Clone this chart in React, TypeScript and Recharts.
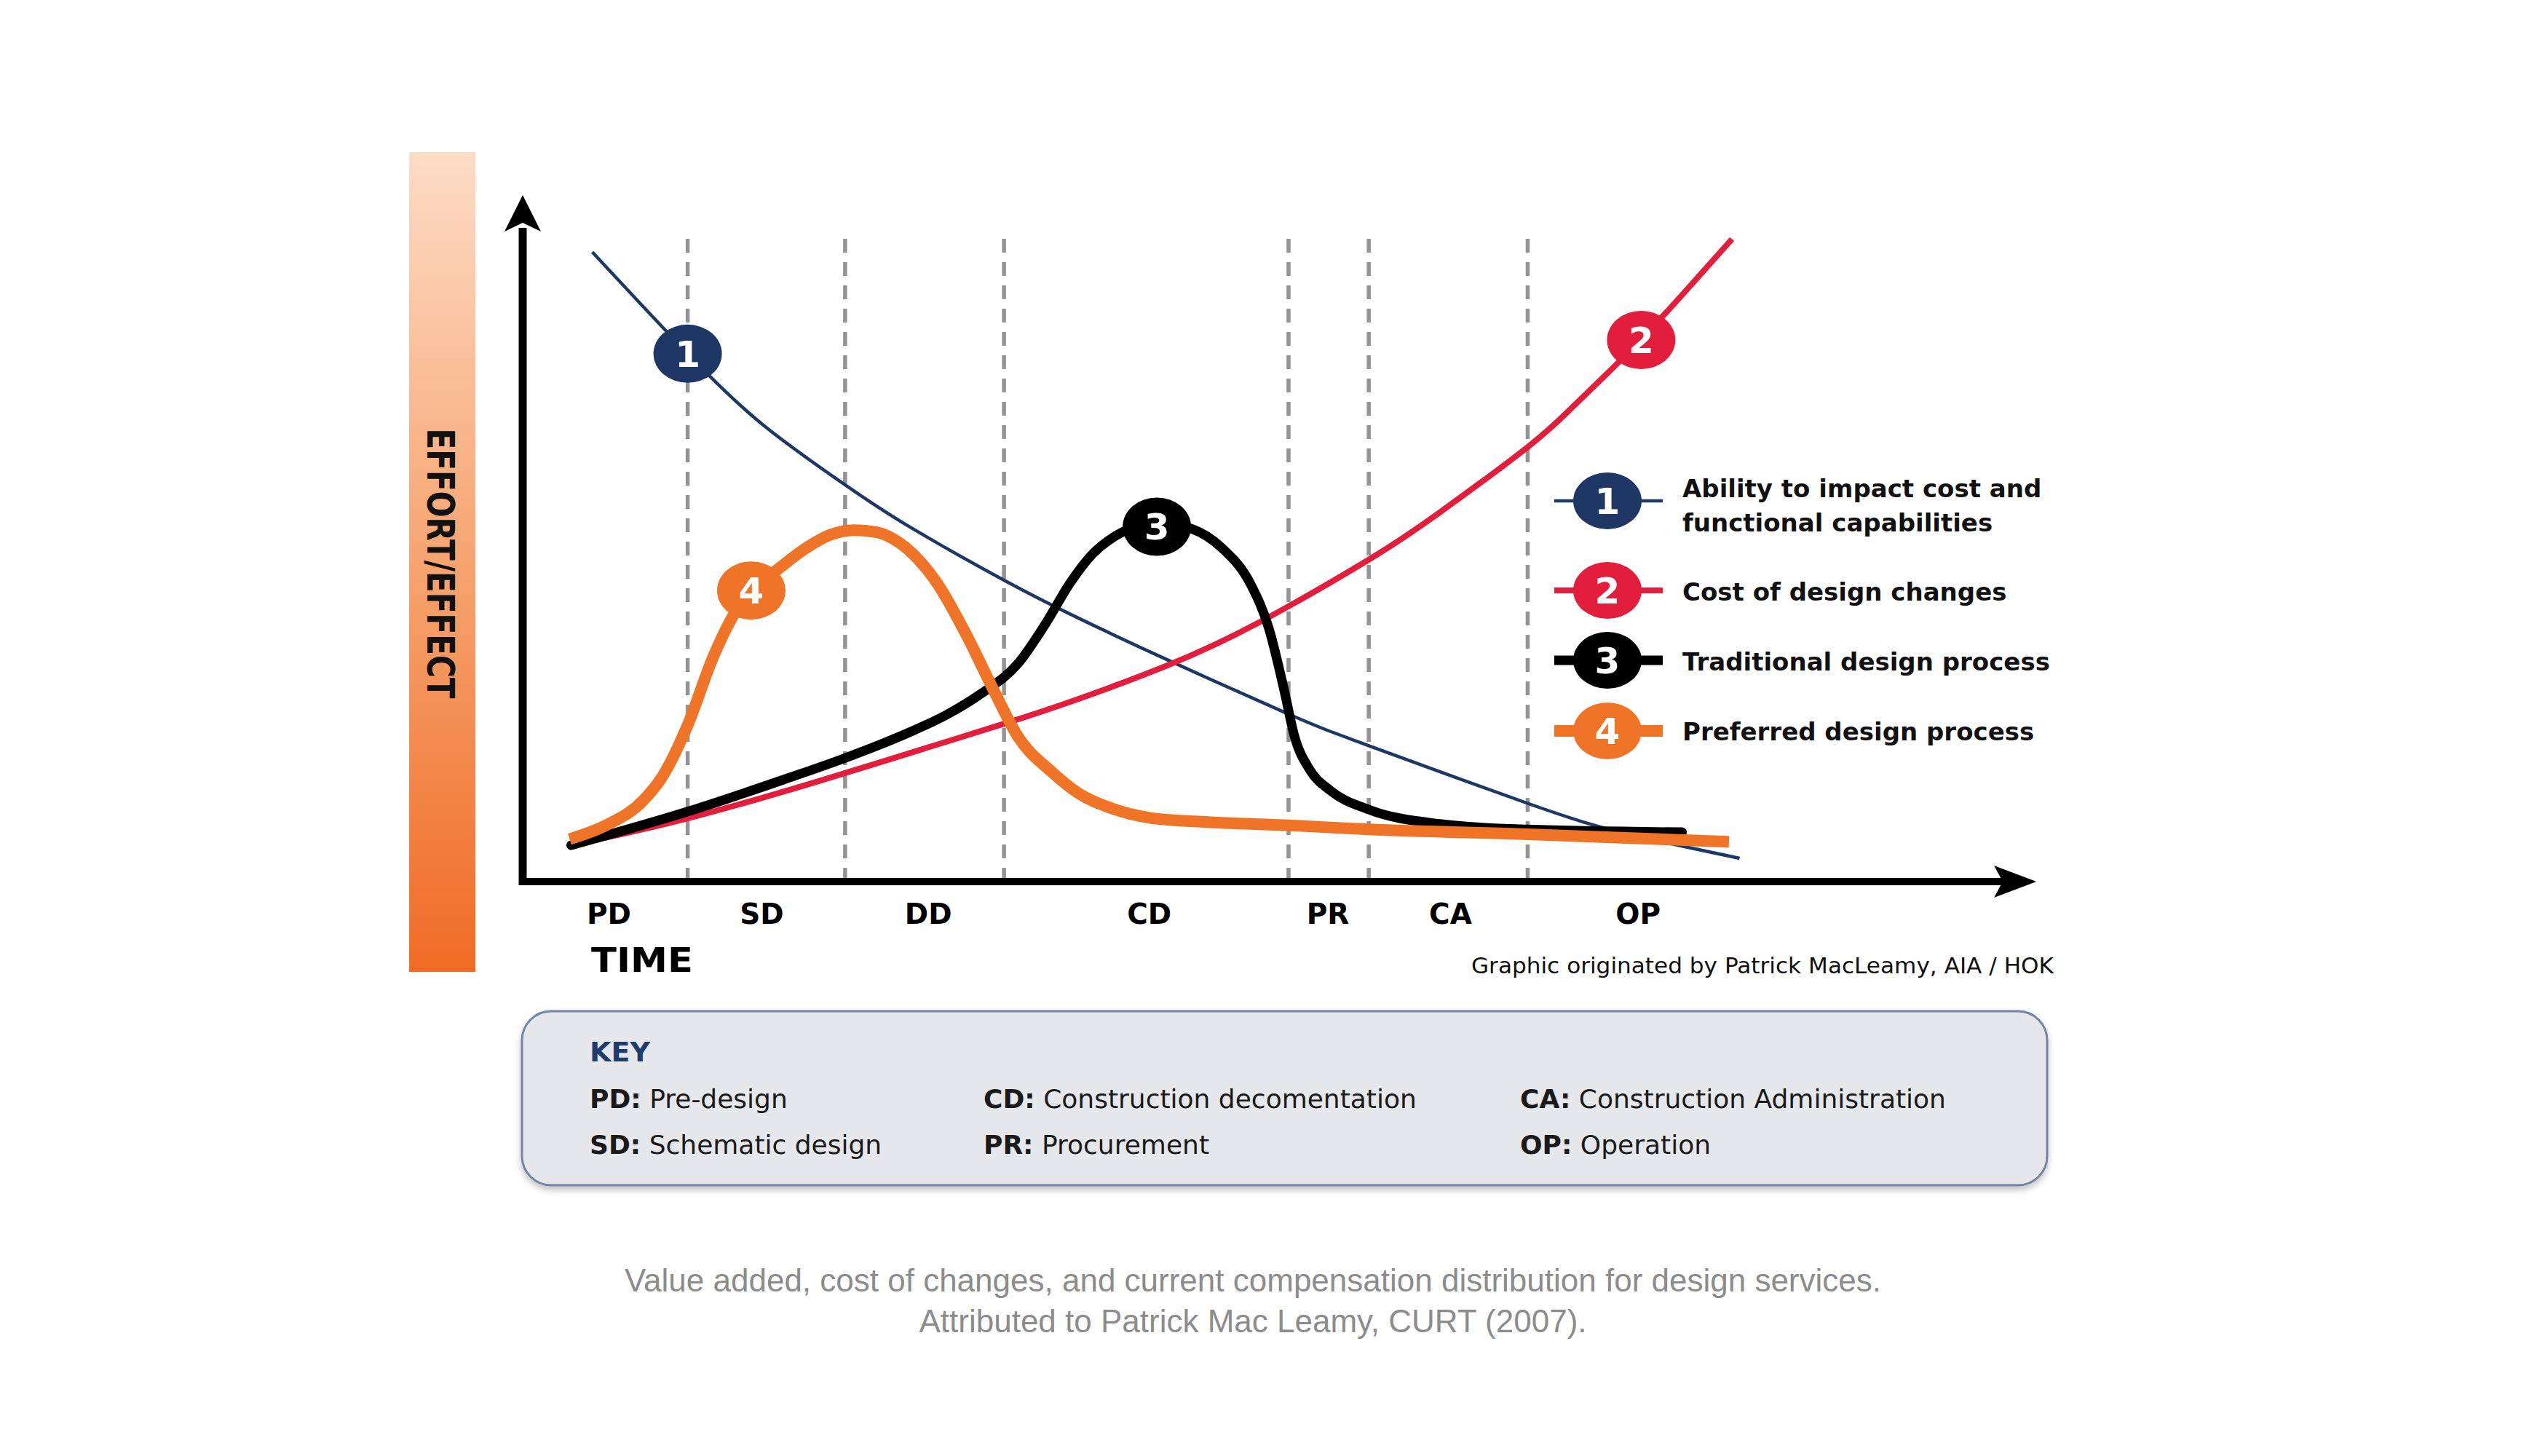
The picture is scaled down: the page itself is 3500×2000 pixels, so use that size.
import React from 'react';
import { ComposedChart, Line, XAxis, YAxis, ReferenceLine, ReferenceDot, Legend } from 'recharts';

// ---------- data (time units 0..100, effort units 0..100) ----------
const phaseLabels = ['PD', 'SD', 'DD', 'CD', 'PR', 'CA', 'OP'];
const phaseCenters = [5.7, 15.8, 26.8, 41.4, 53.2, 61.3, 73.7];
const phaseBoundaries = [10.9, 21.3, 31.8, 50.6, 55.9, 66.4];
const dashTop = 94.8;

const abilityData = [
  { t: 4.6, v: 91.7 }, { t: 10.9, v: 76.9 }, { t: 15.9, v: 66.5 }, { t: 21.3, v: 57.8 },
  { t: 25.4, v: 51.9 }, { t: 31.8, v: 43.9 }, { t: 36.7, v: 38.4 }, { t: 42.6, v: 32.3 },
  { t: 50.6, v: 24.4 }, { t: 55.9, v: 19.8 }, { t: 66.4, v: 11.4 }, { t: 72.9, v: 7.0 },
  { t: 80.4, v: 3.4 },
];
const costData = [
  { t: 3.2, v: 5.3 }, { t: 10.9, v: 9.2 }, { t: 19.5, v: 14.6 }, { t: 25.4, v: 18.6 },
  { t: 31.8, v: 23.0 }, { t: 36.7, v: 26.6 }, { t: 42.6, v: 31.5 }, { t: 48.6, v: 37.7 },
  { t: 55.9, v: 46.9 }, { t: 60.6, v: 53.8 }, { t: 66.4, v: 63.3 }, { t: 69.4, v: 69.2 },
  { t: 72.7, v: 76.3 }, { t: 75.8, v: 83.5 }, { t: 78.0, v: 88.9 }, { t: 79.9, v: 93.6 },
];
const traditionalData = [
  { t: 3.2, v: 5.3 }, { t: 10.9, v: 10.2 }, { t: 17.3, v: 14.9 }, { t: 21.3, v: 18.0 },
  { t: 25.4, v: 21.6 }, { t: 28.0, v: 24.3 }, { t: 30.3, v: 27.4 }, { t: 32.7, v: 31.7 },
  { t: 34.5, v: 37.4 }, { t: 36.2, v: 43.6 }, { t: 37.6, v: 47.6 }, { t: 39.7, v: 51.0 },
  { t: 41.9, v: 52.3 }, { t: 44.2, v: 51.4 }, { t: 46.2, v: 48.6 }, { t: 48.1, v: 43.3 },
  { t: 49.3, v: 36.9 }, { t: 50.3, v: 28.0 }, { t: 51.0, v: 21.1 }, { t: 52.0, v: 16.3 },
  { t: 53.4, v: 13.2 }, { t: 55.9, v: 10.5 }, { t: 60.6, v: 8.4 }, { t: 66.4, v: 7.6 },
  { t: 76.6, v: 7.2 },
];
const preferredData = [
  { t: 3.1, v: 6.2 }, { t: 5.5, v: 8.2 }, { t: 8.0, v: 11.9 }, { t: 9.2, v: 15.2 },
  { t: 10.9, v: 22.8 }, { t: 12.6, v: 32.8 }, { t: 14.0, v: 39.1 }, { t: 15.1, v: 42.4 },
  { t: 16.8, v: 45.4 }, { t: 18.8, v: 48.7 }, { t: 20.3, v: 50.5 }, { t: 21.9, v: 51.2 },
  { t: 23.4, v: 50.9 }, { t: 24.5, v: 49.9 }, { t: 27.4, v: 43.4 }, { t: 29.3, v: 36.0 },
  { t: 31.2, v: 27.5 }, { t: 32.7, v: 21.2 }, { t: 35.0, v: 15.9 }, { t: 36.7, v: 12.9 },
  { t: 39.0, v: 10.6 }, { t: 41.4, v: 9.3 }, { t: 45.0, v: 8.7 }, { t: 50.6, v: 8.2 },
  { t: 55.9, v: 7.6 }, { t: 66.4, v: 6.9 }, { t: 79.7, v: 5.8 },
];

const seriesNames = [
  ['Ability to impact cost and', 'functional capabilities'],
  ['Cost of design changes'],
  ['Traditional design process'],
  ['Preferred design process'],
];
const seriesColors = ['#1e3764', '#e31d3c', '#000000', '#f07427'];
const seriesWidths = [4.5, 8, 13, 16];
const badgePositions = [
  { t: 10.9, v: 76.9 },
  { t: 73.9, v: 78.9 },
  { t: 41.9, v: 51.7 },
  { t: 15.1, v: 42.4 },
];

const keyRows = [
  [['PD', 'Pre-design'], ['CD', 'Construction decomentation'], ['CA', 'Construction Administration']],
  [['SD', 'Schematic design'], ['PR', 'Procurement'], ['OP', 'Operation']],
];
const captionLines = [
  'Value added, cost of changes, and current compensation distribution for design services.',
  'Attributed to Patrick Mac Leamy, CURT (2007).',
];

// ---------- styling ----------
const BOLD = "'DejaVu Sans', sans-serif";
const W = 3500;
const H = 2000;

const Badge = (color: string, n: number) => (props: any) => {
  const { cx, cy } = props;
  return (
    <g>
      <ellipse cx={cx} cy={cy} rx={47} ry={40} fill={color} />
      <text x={cx} y={cy + 18} textAnchor="middle" fontFamily={BOLD} fontWeight="bold" fontSize={50} fill="#fff">
        {n}
      </text>
    </g>
  );
};

const XArrow = (p: any) => {
  const { x1, y1, x2, y2 } = p;
  return (
    <g>
      <line x1={x1 - 5} y1={y1} x2={x2 - 45} y2={y2} stroke="#000" strokeWidth={10} />
      <path d={`M${x2},${y2} L${x2 - 58},${y2 - 22} L${x2 - 46},${y2} L${x2 - 58},${y2 + 22} Z`} fill="#000" />
    </g>
  );
};
const YArrow = (p: any) => {
  const { x1, y1, x2, y2 } = p;
  return (
    <g>
      <line x1={x1} y1={y1 + 5} x2={x2} y2={y2 + 45} stroke="#000" strokeWidth={11} />
      <path d={`M${x2},${y2} L${x2 - 25},${y2 + 50} L${x2},${y2 + 38} L${x2 + 25},${y2 + 50} Z`} fill="#000" />
    </g>
  );
};

const PhaseTick = (props: any) => {
  const { x, y, payload } = props;
  const i = phaseCenters.indexOf(payload.value);
  return (
    <text x={x} y={y + 58} textAnchor="middle" fontFamily={BOLD} fontWeight="bold" fontSize={39} fill="#000">
      {phaseLabels[i]}
    </text>
  );
};

const rowY = [58, 181, 277, 374];
const textBaselines = [[53, 100], [195], [291], [387]];
const LegendContent = () => (
  <svg width={740} height={420}>
    {seriesNames.map((lines, i) => (
      <g key={i}>
        <line x1={15} x2={164} y1={rowY[i]} y2={rowY[i]} stroke={seriesColors[i]} strokeWidth={seriesWidths[i]} />
        <ellipse cx={88} cy={rowY[i]} rx={47} ry={39} fill={seriesColors[i]} />
        <text x={88} y={rowY[i] + 18} textAnchor="middle" fontFamily={BOLD} fontWeight="bold" fontSize={50} fill="#fff">
          {i + 1}
        </text>
        {lines.map((ln, j) => (
          <text key={j} x={191} y={textBaselines[i][j]} fontFamily={BOLD} fontWeight="bold" fontSize={34} fill="#111">
            {ln}
          </text>
        ))}
      </g>
    ))}
  </svg>
);

const Decorations = () => (
  <svg width={W} height={H} style={{ position: 'absolute', left: 0, top: 0 }}>
    <defs>
      <linearGradient id="barGrad" x1="0" y1="0" x2="0" y2="1">
        <stop offset="0" stopColor="#fddcc6" />
        <stop offset="0.5" stopColor="#f6a470" />
        <stop offset="1" stopColor="#f06b26" />
      </linearGradient>
      <filter id="shadow" x="-5%" y="-10%" width="110%" height="130%">
        <feDropShadow dx="0" dy="5" stdDeviation="5" floodColor="#000" floodOpacity="0.25" />
      </filter>
    </defs>
    <rect x={562} y={209} width={91} height={1126} fill="url(#barGrad)" />
    <g transform="translate(606,774) rotate(90)">
      <text x={0} y={19} textAnchor="middle" fontFamily={BOLD} fontWeight="bold" fontSize={52} fill="#111"
        textLength={371} lengthAdjust="spacingAndGlyphs">EFFORT/EFFECT</text>
    </g>
    <text x={812} y={1335} fontFamily={BOLD} fontWeight="bold" fontSize={46} fill="#000" textLength={140}
      lengthAdjust="spacingAndGlyphs">TIME</text>
    <text x={2821} y={1337} textAnchor="end" fontFamily="'DejaVu Sans', sans-serif" fontSize={30} fill="#111"
      textLength={800} lengthAdjust="spacingAndGlyphs">
      Graphic originated by Patrick MacLeamy, AIA / HOK
    </text>
    <rect x={717} y={1389} width={2095} height={239} rx={40} fill="#e6e7eb" stroke="#7084a8" strokeWidth={3}
      filter="url(#shadow)" />
    <text x={810} y={1458} fontFamily={BOLD} fontWeight="bold" fontSize={38} fill="#1f3c6e">KEY</text>
    {keyRows.map((row, r) =>
      row.map(([code, desc], c) => (
        <text key={`${r}-${c}`} x={[810, 1351, 2088][c]} y={[1522, 1585][r]} fontFamily="'DejaVu Sans', sans-serif"
          fontSize={36} fill="#1a1a1a">
          <tspan fontWeight="bold">{code}:</tspan> {desc}
        </text>
      ))
    )}
    {captionLines.map((ln, i) => (
      <text key={i} x={1721} y={[1774, 1830][i]} textAnchor="middle" fontFamily="'Liberation Sans', Arial, sans-serif"
        fontSize={44} fill="#8c8c8c">
        {ln}
      </text>
    ))}
  </svg>
);

export default function App() {
  return (
    <div style={{ position: 'absolute', left: 0, top: 0, width: W, height: H, background: '#fff' }}>
      <Decorations />
      <div style={{ position: 'absolute', left: 0, top: 0 }}>
        <ComposedChart width={W} height={H} margin={{ top: 268, right: 703, bottom: 689, left: 718 }}>
          <XAxis type="number" dataKey="t" domain={[0, 100]} ticks={phaseCenters} tick={<PhaseTick />}
            axisLine={false} tickLine={false} tickSize={0} tickMargin={0} height={100} allowDataOverflow />
          <YAxis type="number" dataKey="v" domain={[0, 100]} hide allowDataOverflow />
          {phaseBoundaries.map((b) => (
            <ReferenceLine key={b} segment={[{ x: b, y: 0 }, { x: b, y: dashTop }]} stroke="#949494"
              strokeWidth={5.5} strokeDasharray="19 13" zIndex={-50} />
          ))}
          <ReferenceLine segment={[{ x: 0, y: 0 }, { x: 100, y: 0 }]} shape={XArrow} />
          <ReferenceLine segment={[{ x: 0, y: 0 }, { x: 0, y: 100 }]} shape={YArrow} />
          <Line data={abilityData} dataKey="v" type="natural" name={seriesNames[0].join(' ')} stroke={seriesColors[0]}
            strokeWidth={seriesWidths[0]} dot={false} activeDot={false} isAnimationActive={false} />
          <Line data={costData} dataKey="v" type="natural" name={seriesNames[1][0]} stroke={seriesColors[1]}
            strokeWidth={seriesWidths[1]} dot={false} activeDot={false} isAnimationActive={false} />
          <Line data={traditionalData} dataKey="v" type="monotone" name={seriesNames[2][0]} stroke={seriesColors[2]}
            strokeWidth={seriesWidths[2]} dot={false} activeDot={false} isAnimationActive={false} strokeLinecap="round" />
          <Line data={preferredData} dataKey="v" type="monotone" name={seriesNames[3][0]} stroke={seriesColors[3]}
            strokeWidth={seriesWidths[3]} dot={false} activeDot={false} isAnimationActive={false} />
          {badgePositions.map((b, i) => (
            <ReferenceDot key={i} x={b.t} y={b.v} r={40} shape={Badge(seriesColors[i], i + 1)} />
          ))}
          <Legend layout="horizontal" verticalAlign="middle" align="center" content={<LegendContent />}
            wrapperStyle={{ position: 'absolute', left: 2120, top: 630, width: 740, height: 420, margin: 0, padding: 0 }} />
        </ComposedChart>
      </div>
    </div>
  );
}
